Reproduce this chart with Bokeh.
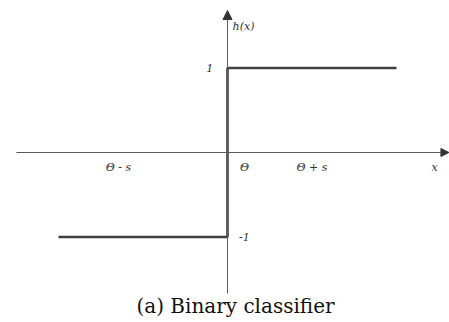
from bokeh.plotting import figure
from bokeh.models import Arrow, NormalHead, Range1d, Label
from bokeh.core.properties import value
from bokeh.embed import file_html
from bokeh.resources import INLINE

# step function h(x)
step_x = [-2, 0, 0, 2]
step_y = [-1, -1, 1, 1]

# labels on the x-axis
x_labels = ["\u0398 - s", "\u0398", "\u0398 + s", "x"]
x_label_pos = [-1.29, 0.2, 1.0, 2.45]

# labels on the y-axis
y_labels = ["1", "-1"]
y_label_pos = [1, -1]
y_label_x = [-0.21, 0.2]

caption = "(a) Binary classifier"

W, H = 449, 322
p = figure(width=W, height=H, output_backend="svg", toolbar_location=None,
           x_range=Range1d(-2.686, 2.627), y_range=Range1d(-2.012, 1.799),
           min_border=0, outline_line_color=None)
p.axis.visible = False
p.grid.visible = False
p.background_fill_color = "white"
p.border_fill_color = "white"

axis_color = "#5a5a5a"
# horizontal axis with arrow
p.add_layout(Arrow(x_start=-2.497, y_start=0, x_end=2.62, y_end=0,
                   line_color=axis_color, line_width=1,
                   end=NormalHead(size=8, fill_color="#333333", line_color="#333333")))
# vertical axis with arrow
p.add_layout(Arrow(x_start=0, y_start=-1.669, x_end=0, y_end=1.68,
                   line_color=axis_color, line_width=1,
                   end=NormalHead(size=9, fill_color="#333333", line_color="#333333")))

p.line(step_x, step_y, line_color="#404040", line_width=2.6)

FONT = "DejaVu Serif"
font = value(FONT)
p.text(x=x_label_pos, y=[-0.178] * len(x_labels), text=x_labels,
       text_font=font, text_font_style="italic", text_font_size="11px",
       text_color="#333333", text_align="center", text_baseline="middle")
p.text(x=y_label_x, y=y_label_pos, text=y_labels,
       text_font=font, text_font_style="italic", text_font_size="11px",
       text_color="#333333", text_align="center", text_baseline="middle")
p.text(x=[0.19], y=[1.49], text=["h(x)"],
       text_font=font, text_font_style="italic", text_font_size="11px",
       text_color="#333333", text_align="center", text_baseline="middle")

p.add_layout(Label(x=235, y=5, x_units="screen", y_units="screen",
                   text=caption, text_font=FONT, text_font_size="20px",
                   text_color="#111111", text_align="center", text_baseline="bottom"))

open("out.html", "w").write(file_html(p, INLINE))
